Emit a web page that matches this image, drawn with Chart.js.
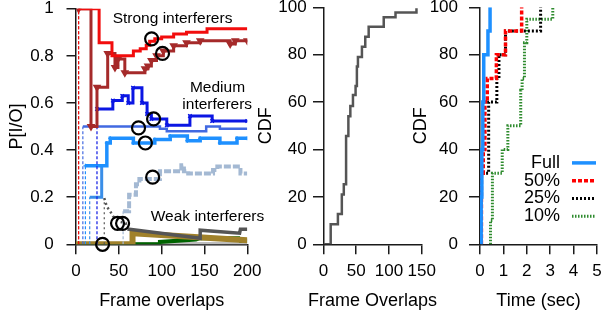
<!DOCTYPE html>
<html>
<head>
<meta charset="utf-8">
<title>Interferer CDFs</title>
<script src="https://cdn.jsdelivr.net/npm/chart.js@4.4.1/dist/chart.umd.min.js"></script>
<style>
  html, body { margin: 0; padding: 0; background: #fff; }
  #wrap { position: relative; width: 603px; height: 317px; overflow: hidden; }
  #wrap canvas { position: absolute; top: 0; }
</style>
</head>
<body>
<div id="wrap">
  <canvas id="pioChart" width="270" height="317" style="left:0px"></canvas>
  <canvas id="overlapChart" width="185" height="317" style="left:255px"></canvas>
  <canvas id="timeChart" width="193" height="317" style="left:410px"></canvas>
</div>
<script>
// ---- left panel: P[I/O] against frame overlaps ----
const pioXTicks = [0, 50, 100, 150, 200];
const pioYTicks = [0, 0.2, 0.4, 0.6, 0.8, 1];

// strong interferers
const strongRedX = [3, 3, 27, 42, 67, 75, 82, 86, 92, 100, 114, 129, 153, 200];
const strongRedY = [0, 1, 0.855, 0.8, 0.82, 0.83, 0.845, 0.862, 0.872, 0.88, 0.893, 0.9, 0.915, 0.915];
const strongBrownX = [3, 3, 17.5, 24.5, 37, 45.5, 49, 57, 80.5, 84, 88, 94, 102, 114, 129, 145, 180, 186, 200];
const strongBrownY = [0, 1, 0.5, 0.667, 0.81, 0.75, 0.787, 0.728, 0.745, 0.757, 0.78, 0.8, 0.82, 0.843, 0.855, 0.864, 0.85, 0.864, 0.864];

// medium interferers
const medBlueX = [24.5, 24.5, 43, 54, 61, 66.5, 77, 83, 88, 106, 133, 159, 200];
const medBlueY = [0, 0.574, 0.61, 0.63, 0.6, 0.665, 0.6, 0.553, 0.532, 0.505, 0.545, 0.523, 0.523];
const medRoyalX = [8, 8, 98, 106, 152, 168, 200];
const medRoyalY = [0, 0.5, 0.49, 0.48, 0.5, 0.49, 0.49];
const medDodgerX = [11, 11, 36, 40, 67, 92, 110, 130, 145, 168, 188, 200];
const medDodgerY = [0, 0.333, 0.43, 0.45, 0.43, 0.445, 0.46, 0.44, 0.45, 0.43, 0.45, 0.45];
const medSkyX = [16, 16, 30, 30];
const medSkyY = [0, 0.2, 0.2, 0.333];
const medSteelX = [55, 55, 62, 70, 74, 98, 123, 126, 131, 160, 165, 192, 200];
const medSteelY = [0, 0.14, 0.21, 0.255, 0.277, 0.31, 0.335, 0.31, 0.3, 0.315, 0.33, 0.3, 0.3];

// weak interferers
const weakGrayX = [33, 33, 36, 40, 43, 47, 52, 58, 60, 145, 145, 191, 192, 200];
const weakGrayY = [0, 0.196, 0.16, 0.14, 0.12, 0.105, 0.095, 0.09, 0.065, 0.026, 0.06, 0.047, 0.064, 0.064];
const weakOliveX = [0, 66, 66, 200];
const weakOliveY = [0, 0, 0.047, 0.017];
const weakGreenX = [0, 98, 98, 140, 145, 190, 192, 200];
const weakGreenY = [0, 0, 0.01, 0.02, 0.026, 0.026, 0.015, 0.015];
const weakLightX = [0, 200];
const weakLightY = [0, 0];

// highlighted points (open circles)
const circleX = [88.3, 101, 90.6, 73, 81, 89.5, 48.5, 54.4, 31];
const circleY = [0.872, 0.81, 0.532, 0.494, 0.43, 0.285, 0.089, 0.089, 0];

// ---- middle panel: CDF of frame overlaps ----
const overlapXTicks = [0, 50, 100, 150];
const cdfYTicks = [0, 20, 40, 60, 80, 100];
const overlapX = [0, 11, 22, 28, 31, 34.5, 38, 41, 45, 49, 51, 52.6, 58.7, 63.8, 69, 92, 110, 142];
const overlapCdf = [0, 8.5, 12.8, 21, 25.3, 45.7, 54, 58.4, 63, 66.8, 75, 79, 83.4, 87.6, 91.8, 95.8, 97.8, 99.6];

// ---- right panel: CDF of time ----
const timeXTicks = [0, 1, 2, 3, 4, 5];
const timeLabels = ["Full", "50%", "25%", "10%"];
const fullX = [0.03, 0.05, 0.08, 0.12, 0.16, 0.34, 0.43];
const fullY = [0, 20, 40, 60, 80, 90, 100];
const halfX = [0.06, 0.06, 0.14, 0.21, 0.31, 0.7, 1.09, 1.78];
const halfY = [0, 30, 40, 60, 70, 80, 90, 100];
const quarterX = [0.05, 0.05, 0.37, 0.72, 0.81, 1.09, 2.59];
const quarterY = [0, 30, 60, 70, 80, 90, 100];
const tenthX = [0.45, 0.45, 0.53, 0.95, 1.19, 1.74, 1.8, 1.9, 2.0, 3.11];
const tenthY = [0, 10, 30, 40, 50, 65, 70, 85, 95, 100];

const FONT = '"Liberation Sans", Arial, Helvetica, sans-serif';
const INK = "#1a1a1a";

function pts(xs, ys) {
  return xs.map((x, i) => ({ x, y: ys[i] }));
}

function tickFmt(v) {
  return String(Math.round(v * 100) / 100);
}

// R-style axes: ticks outside, axis line, no grid
function buildScales(o) {
  return {
    x: {
      type: "linear",
      min: o.xTicks[0],
      max: o.xTicks[o.xTicks.length - 1],
      afterBuildTicks: s => { s.ticks = o.xTicks.map(v => ({ value: v })); },
      afterFit: s => { s.height = 317 - 244.3; s.paddingLeft = 0; s.paddingRight = 0; },
      ticks: { callback: tickFmt, color: "#000", font: { size: 17 }, padding: 7, maxRotation: 0, autoSkip: false },
      grid: { drawOnChartArea: false, drawTicks: true, tickLength: 10, color: INK, lineWidth: 1.5 },
      border: { display: true, color: INK, width: 1.5 },
      title: { display: false, text: o.xTitle }
    },
    y: {
      type: "linear",
      min: o.yTicks[0],
      max: o.yTicks[o.yTicks.length - 1],
      afterBuildTicks: s => { s.ticks = o.yTicks.map(v => ({ value: v })); },
      afterFit: s => { s.width = o.yWidth; s.paddingTop = 0; s.paddingBottom = 0; },
      ticks: { callback: tickFmt, color: "#000", font: { size: 17 }, padding: o.yPad },
      grid: { drawOnChartArea: false, drawTicks: true, tickLength: o.yTick, color: INK, lineWidth: 1.5 },
      border: { display: true, color: INK, width: 1.5 },
      title: { display: true, text: o.yTitle, color: "#000", font: { size: 18 }, padding: { top: o.yTitlePad, bottom: 0 } }
    }
  };
}

function baseOptions(scales, padRight) {
  return {
    responsive: false,
    devicePixelRatio: 1,
    animation: false,
    events: [],
    layout: { padding: { left: 0, top: 7.3, right: padRight, bottom: 0 } },
    elements: { point: { radius: 0 }, line: { tension: 0 } },
    plugins: { legend: { display: false }, tooltip: { enabled: false } },
    scales
  };
}

// x axis title drawn unsquashed (Chart.js would shrink it to the plot width)
const xTitlePlugin = {
  id: "xTitle",
  afterDraw(chart) {
    const { ctx, chartArea } = chart;
    const text = chart.options.scales.x.title.text;
    ctx.save();
    ctx.font = "18px " + FONT;
    ctx.fillStyle = "#000";
    ctx.textAlign = "center";
    ctx.textBaseline = "middle";
    ctx.fillText(text, (chartArea.left + chartArea.right) / 2, 301.5);
    ctx.restore();
  }
};

// first segment (rise from zero) is drawn thin and dashed
const thinStart = {
  borderWidth: c => (c.p0DataIndex === 0 ? 1.2 : undefined),
  borderDash: c => (c.p0DataIndex === 0 ? [3, 2] : undefined)
};

function stepLine(xs, ys, color, width, extra) {
  return Object.assign({
    data: pts(xs, ys),
    borderColor: color,
    backgroundColor: color,
    borderWidth: width,
    stepped: true,
    fill: false,
    pointRadius: 0,
    segment: thinStart
  }, extra || {});
}

const noteLayout = [
  { text: "Strong interferers", x: 112.7, y: 0.958 },
  { text: "Medium", x: 165.2, y: 0.665 },
  { text: "interferers", x: 164.9, y: 0.592 },
  { text: "Weak interferers", x: 153.5, y: 0.115 }
];

const notesPlugin = {
  id: "notes",
  afterDatasetsDraw(chart) {
    const { ctx, scales } = chart;
    ctx.save();
    ctx.font = "15.5px " + FONT;
    ctx.fillStyle = "#000";
    ctx.textAlign = "center";
    ctx.textBaseline = "middle";
    noteLayout.forEach(n => {
      ctx.fillText(n.text, scales.x.getPixelForValue(n.x), scales.y.getPixelForValue(n.y));
    });
    ctx.restore();
  }
};

const keyPlugin = {
  id: "key",
  afterDatasetsDraw(chart) {
    const { ctx, chartArea } = chart;
    ctx.save();
    ctx.font = "18px " + FONT;
    ctx.textAlign = "right";
    ctx.textBaseline = "middle";
    chart.data.datasets.forEach((ds, i) => {
      const y = chartArea.top + 155.6 + i * 17.8;
      ctx.fillStyle = "#000";
      ctx.fillText(ds.label, chartArea.right - 37, y);
      ctx.strokeStyle = ds.borderColor;
      ctx.lineWidth = ds.borderWidth;
      ctx.setLineDash(ds.borderDash || []);
      ctx.beginPath();
      ctx.moveTo(chartArea.right - 25, y);
      ctx.lineTo(chartArea.right - 1, y);
      ctx.stroke();
    });
    ctx.restore();
  }
};

document.addEventListener("DOMContentLoaded", () => {
  Chart.defaults.font.family = FONT;
  Chart.defaults.color = "#000";
  renderPioChart();
  renderOverlapChart();
  renderTimeChart();
});

function renderPioChart() {
  const el = document.getElementById("pioChart");
  const scales = buildScales({
    xTicks: pioXTicks, yTicks: pioYTicks, xTitle: "Frame overlaps", yTitle: "P[I/O]",
    yWidth: 76, yTick: 9.5, yPad: 12.7, yTitlePad: 6.5
  });
  const marker = c => (c.dataIndex === 0 ? 0 : 2);

  new Chart(el, {
    type: "line",
    data: {
      datasets: [
        {
          data: pts(circleX, circleY),
          showLine: false,
          pointStyle: "circle",
          pointRadius: 6.5,
          pointBorderWidth: 2.2,
          pointBorderColor: "#000",
          pointBackgroundColor: "rgba(0,0,0,0)",
          clip: false
        },
        stepLine(strongRedX, strongRedY, "#f20d0d", 3),
        stepLine(strongBrownX, strongBrownY, "#a52a2a", 3, { pointStyle: "triangle", pointRotation: 180, pointRadius: marker }),
        stepLine(medBlueX, medBlueY, "#0b16e3", 3, { pointStyle: "crossRot", pointRadius: c => (c.dataIndex === 0 ? 0 : 2.5), pointBorderWidth: 1.3 }),
        stepLine(medRoyalX, medRoyalY, "#4169e1", 2.5),
        stepLine(medDodgerX, medDodgerY, "#1e90ff", 3.5, { pointStyle: "cross", pointRadius: marker, pointBorderWidth: 1.3 }),
        stepLine(medSkyX, medSkyY, "#3a8ee8", 3),
        stepLine(medSteelX, medSteelY, "#a4b9d3", 4, { borderDash: [7, 2] }),
        stepLine(weakGrayX, weakGrayY, "#555555", 3.5, {
          stepped: false,
          segment: {
            borderWidth: c => (c.p0DataIndex === 0 ? 1.2 : (c.p0DataIndex < 8 ? 2.5 : undefined)),
            borderDash: c => (c.p0DataIndex < 8 ? [2, 3] : undefined)
          }
        }),
        stepLine(weakOliveX, weakOliveY, "#a0812a", 6, { stepped: false, segment: {} }),
        stepLine(weakGreenX, weakGreenY, "#006400", 4, { stepped: false, segment: {} }),
        stepLine(weakLightX, weakLightY, "#bebebe", 4.5, { stepped: false, segment: {} })
      ]
    },
    options: baseOptions(scales, 270 - 247.3),
    plugins: [notesPlugin, xTitlePlugin]
  });
}

function renderOverlapChart() {
  const el = document.getElementById("overlapChart");
  const scales = buildScales({
    xTicks: overlapXTicks, yTicks: cdfYTicks, xTitle: "Frame Overlaps", yTitle: "CDF",
    yWidth: 68.5, yTick: 10.5, yPad: 6.3, yTitlePad: 0.2
  });

  new Chart(el, {
    type: "line",
    data: {
      datasets: [stepLine(overlapX, overlapCdf, "#555555", 2.5, { segment: {} })]
    },
    options: baseOptions(scales, 185 - (421.7 - 255)),
    plugins: [xTitlePlugin]
  });
}

function renderTimeChart() {
  const el = document.getElementById("timeChart");
  const scales = buildScales({
    xTicks: timeXTicks, yTicks: cdfYTicks, xTitle: "Time (sec)", yTitle: "CDF",
    yWidth: 70, yTick: 11, yPad: 11, yTitlePad: 0.2
  });

  new Chart(el, {
    type: "line",
    data: {
      datasets: [
        stepLine(fullX, fullY, "#1e90ff", 3.5, { label: timeLabels[0], segment: {} }),
        stepLine(halfX, halfY, "#ff0000", 3.5, { label: timeLabels[1], borderDash: [4, 2], segment: {} }),
        stepLine(quarterX, quarterY, "#000000", 3, { label: timeLabels[2], borderDash: [2, 2], segment: {} }),
        stepLine(tenthX, tenthY, "#2e8b2e", 3, { label: timeLabels[3], borderDash: [1.5, 1.5], segment: {} })
      ]
    },
    options: baseOptions(scales, 6),
    plugins: [keyPlugin, xTitlePlugin]
  });
}
</script>
</body>
</html>
